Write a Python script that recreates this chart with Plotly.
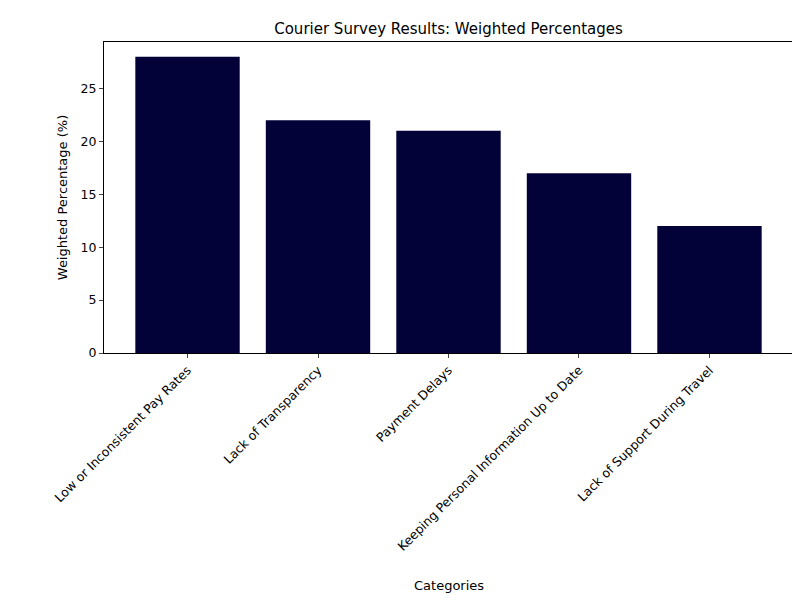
import plotly.graph_objects as go

categories = ["Low or Inconsistent Pay Rates", "Lack of Transparency", "Payment Delays",
              "Keeping Personal Information Up to Date", "Lack of Support During Travel"]
values = [28, 22, 21, 17, 12]

fig = go.Figure(go.Bar(x=list(range(len(categories))), y=values, width=0.8,
                       marker=dict(color="#020238", line=dict(width=0))))
fig.update_layout(
    width=800, height=600, plot_bgcolor="white", paper_bgcolor="white",
    margin=dict(l=96, r=15, t=34, b=255, autoexpand=False),
    font=dict(family="DejaVu Sans", size=12.5, color="black"),
    title=dict(text="Courier Survey Results: Weighted Percentages", x=0.5, xanchor="center",
               xref="paper", y=1 - 21/600, yanchor="middle", font=dict(size=15)),
    showlegend=False,
)
fig.update_xaxes(range=[-0.64, 4.64], tickmode="array", tickvals=list(range(len(categories))),
                 ticktext=categories, tickangle=-45, showline=True, linecolor="black", mirror=True,
                 ticks="outside", ticklen=4, showgrid=False, zeroline=False, automargin=False)
fig.update_yaxes(range=[0, 29.4], dtick=5, showline=True, linecolor="black", mirror=True,
                 ticks="outside", ticklen=4, showgrid=False, zeroline=False, automargin=False,
                 title=dict(text="Weighted Percentage (%)", standoff=10, font=dict(size=13)))
fig.add_annotation(text="Categories", x=0.5, xref="paper", y=-232/311, yref="paper",
                   yanchor="middle", showarrow=False, font=dict(size=13))
fig.write_html("out.html")
